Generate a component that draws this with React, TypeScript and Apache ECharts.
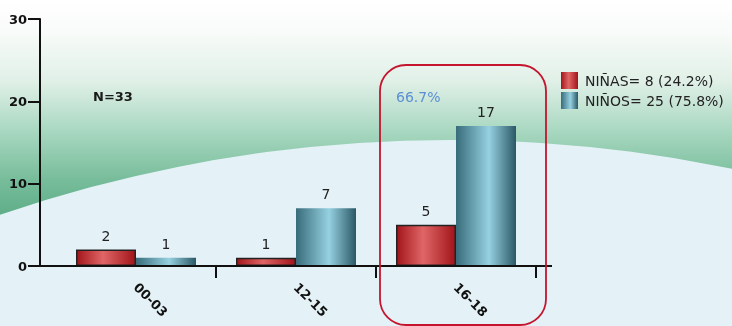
import React, { useEffect, useRef } from 'react';
import * as echarts from 'echarts';

const categories = ['00-03', '12-15', '16-18'];
const ninas = [2, 1, 5];
const ninos = [1, 7, 17];
const yTicks = [0, 10, 20, 30];
const legendNames = ['NIÑAS= 8 (24.2%)', 'NIÑOS= 25 (75.8%)'];
const noteN = 'N=33';
const notePct = '66.7%';

const FONT = 'DejaVu Sans, Verdana, sans-serif';

export default function App() {
  const ref = useRef<HTMLDivElement>(null);
  useEffect(() => {
    if (!ref.current) return;
    const chart = echarts.init(ref.current, null, { renderer: 'svg' });
    const redGrad = new echarts.graphic.LinearGradient(0, 0, 1, 0, [
      { offset: 0, color: '#a3151b' },
      { offset: 0.45, color: '#e06666' },
      { offset: 1, color: '#a1141a' },
    ]);
    const blueGrad = new echarts.graphic.LinearGradient(0, 0, 1, 0, [
      { offset: 0, color: '#386c7a' },
      { offset: 0.55, color: '#96d1e1' },
      { offset: 1, color: '#2b5866' },
    ]);
    const bgGrad = new echarts.graphic.LinearGradient(0, 0, 0, 1, [
      { offset: 0, color: '#ffffff' },
      { offset: 0.1, color: '#f8fbf9' },
      { offset: 0.25, color: '#e0f0e7' },
      { offset: 0.4, color: '#a9d8c1' },
      { offset: 0.55, color: '#78bd9b' },
      { offset: 0.68, color: '#5aab85' },
      { offset: 1, color: '#4a9f78' },
    ]);
    const axisColor = '#111';
    const option: any = {
      animation: false,
      textStyle: { fontFamily: FONT },
      grid: { left: 56, right: 196, top: 19, bottom: 60, containLabel: false },
      legend: {
        orient: 'vertical',
        left: 561,
        top: 72,
        padding: 0,
        itemWidth: 17,
        itemHeight: 17,
        itemGap: 3,
        icon: 'rect',
        data: legendNames,
        itemStyle: { borderWidth: 0 },
        textStyle: { fontSize: 14, color: '#222', fontFamily: FONT, padding: [0, 0, 0, 2] },
      },
      xAxis: {
        type: 'category',
        data: categories,
        axisLine: { lineStyle: { color: axisColor, width: 2 } },
        axisTick: {
          show: true,
          length: 12,
          interval: (i: number) => i > 0,
          lineStyle: { color: axisColor, width: 2 },
        },
        axisLabel: {
          rotate: -45,
          margin: 19,
          fontSize: 13,
          fontWeight: 'bold',
          color: axisColor,
          fontFamily: FONT,
        },
        z: 5,
      },
      yAxis: {
        type: 'value',
        min: yTicks[0],
        max: yTicks[yTicks.length - 1],
        interval: yTicks[1] - yTicks[0],
        offset: 16,
        axisLine: { show: true, lineStyle: { color: axisColor, width: 2 } },
        axisTick: { show: true, length: 12, lineStyle: { color: axisColor, width: 2 } },
        axisLabel: { margin: 13, fontSize: 13, fontWeight: 'bold', color: axisColor, fontFamily: FONT },
        splitLine: { show: false },
      },
      series: [
        {
          name: legendNames[0],
          type: 'bar',
          data: ninas,
          barGap: '0%',
          barCategoryGap: '25%',
          itemStyle: { color: redGrad, borderColor: '#222', borderWidth: 1.5 },
          label: { show: true, position: 'top', distance: 7, fontSize: 14, color: '#222', fontFamily: FONT },
          z: 3,
        },
        {
          name: legendNames[1],
          type: 'bar',
          data: ninos,
          barGap: '0%',
          barCategoryGap: '25%',
          itemStyle: { color: blueGrad },
          label: { show: true, position: 'top', distance: 7, fontSize: 14, color: '#222', fontFamily: FONT },
          z: 3,
        },
      ],
      graphic: [
        {
          type: 'rect',
          z: -100,
          silent: true,
          shape: { x: 0, y: 0, width: 732, height: 326 },
          style: { fill: bgGrad },
        },
        {
          type: 'circle',
          z: -99,
          silent: true,
          shape: { cx: 450, cy: 1530, r: 1390 },
          style: { fill: '#e4f2f8' },
        },
        {
          type: 'line',
          z: 5,
          silent: true,
          shape: { x1: 40, y1: 266, x2: 57, y2: 266 },
          style: { stroke: axisColor, lineWidth: 2 },
        },
        {
          type: 'line',
          z: 5,
          silent: true,
          shape: { x1: 535, y1: 266, x2: 552, y2: 266 },
          style: { stroke: axisColor, lineWidth: 2 },
        },
        {
          type: 'text',
          z: 10,
          left: 93,
          top: 90,
          style: { text: noteN, fontSize: 13, fontWeight: 'bold', fill: '#1a1a1a', fontFamily: FONT },
        },
        {
          type: 'text',
          z: 10,
          left: 396,
          top: 90,
          style: { text: notePct, fontSize: 14, fill: '#5b8fd3', fontFamily: FONT },
        },
        {
          type: 'rect',
          z: 20,
          silent: true,
          shape: { x: 380, y: 65, width: 166, height: 260, r: 26 },
          style: { fill: 'none', stroke: '#c4142e', lineWidth: 1.8 },
        },
      ],
    };
    chart.setOption(option);
    return () => chart.dispose();
  }, []);
  return (
    <div
      ref={ref}
      style={{ position: 'fixed', left: 0, top: 0, width: 732, height: 326 }}
    />
  );
}
